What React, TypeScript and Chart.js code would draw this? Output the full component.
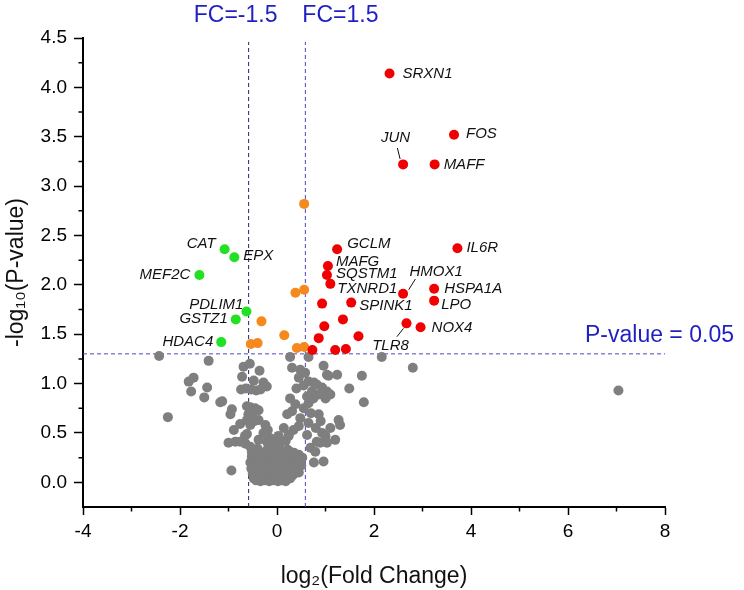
import React, { useEffect, useRef } from 'react';
import { Chart, registerables } from 'chart.js';

Chart.register(...registerables);

const FONT = '"Liberation Sans", Arial, Helvetica, sans-serif';

// axis ticks
const xTicks = [-4, -2, 0, 2, 4, 6, 8];
const xMinorTicks = [-3, -1, 1, 3, 5, 7];
const yTicks = [0, 0.5, 1, 1.5, 2, 2.5, 3, 3.5, 4, 4.5];
const yMinorTicks = [0.25, 0.75, 1.25, 1.75, 2.25, 2.75, 3.25, 3.75, 4.25];

// thresholds
const fcThreshold = 1.5;
const pThreshold = 0.05;

// significantly up-regulated, labelled
const upGenes = ['SRXN1', 'FOS', 'JUN', 'MAFF', 'IL6R', 'GCLM', 'MAFG', 'SQSTM1', 'TXNRD1', 'HMOX1', 'HSPA1A', 'LPO', 'SPINK1', 'NOX4', 'TLR8'];
const upX = [2.32, 3.65, 2.60, 3.25, 3.72, 1.24, 1.05, 1.03, 1.10, 2.60, 3.24, 3.24, 1.53, 2.96, 2.67];
const upY = [4.14, 3.52, 3.22, 3.22, 2.37, 2.36, 2.19, 2.10, 2.01, 1.91, 1.96, 1.84, 1.82, 1.57, 1.61];

// significantly up-regulated, unlabelled
const upOtherX = [0.93, 1.36, 0.975, 0.86, 1.68, 1.20, 1.42, 0.73];
const upOtherY = [1.81, 1.65, 1.58, 1.46, 1.48, 1.34, 1.35, 1.34];

// significantly down-regulated, labelled
const downGenes = ['CAT', 'EPX', 'MEF2C', 'PDLIM1', 'GSTZ1', 'HDAC4'];
const downX = [-1.08, -0.88, -1.60, -0.63, -0.85, -1.15];
const downY = [2.36, 2.28, 2.10, 1.73, 1.65, 1.42];

// significant p but small fold change
const midX = [0.56, 0.56, 0.38, -0.32, 0.15, -0.54, -0.40, 0.41, 0.56];
const midY = [2.82, 1.95, 1.92, 1.63, 1.49, 1.40, 1.41, 1.36, 1.37];

// not significant
const grayPoints: [number, number][] = [
  [-2.43, 1.28], [-2.25, 0.66], [-1.41, 1.23], [-1.72, 1.06], [-1.82, 1.02], [-1.77, 0.92], [-1.44, 0.96], [-1.50, 0.86], [-1.17, 0.81], [-1.13, 0.82],
  [-0.94, 0.12], [-1.00, 0.40], [-0.93, 0.74], [-0.96, 0.69], [-0.89, 0.53], [-0.86, 0.41], [-0.76, 0.41], [-0.76, 0.59],
  [-0.69, 1.17], [-0.56, 1.20], [-0.36, 1.13], [-0.72, 1.07], [-0.48, 1.03], [-0.28, 1.01], [-0.21, 0.97],
  [-0.74, 0.94], [-0.64, 0.95], [-0.53, 0.94], [-0.43, 0.93], [-0.34, 0.94],
  [-0.62, 0.77], [-0.55, 0.76], [-0.45, 0.75], [-0.38, 0.73], [-0.59, 0.69], [-0.51, 0.67], [-0.62, 0.63], [-0.47, 0.62], [-0.38, 0.63], [-0.55, 0.58],
  [-0.62, 0.49], [-0.66, 0.47], [-0.65, 0.39], [-0.55, 0.36], [-0.52, 0.31], [-0.46, 0.25], [-0.38, 0.43], [-0.28, 0.50], [-0.19, 0.53], [-0.24, 0.58],
  [-0.21, 0.41], [-0.15, 0.45], [-0.08, 0.36], [0.00, 0.41], [0.03, 0.47], [0.05, 0.38], [0.14, 0.55], [0.18, 0.42], [0.24, 0.47],
  [0.27, 1.27], [0.65, 1.27], [0.31, 1.16], [0.48, 1.14], [0.58, 1.11], [0.96, 1.18], [1.06, 1.08], [1.24, 1.09], [1.03, 1.09], [0.45, 1.06],
  [0.65, 1.02], [0.76, 1.01], [0.82, 0.99], [0.93, 0.96], [1.03, 0.92], [1.10, 0.89], [0.86, 0.89], [1.00, 0.85], [1.49, 0.95],
  [0.27, 0.85], [0.62, 0.87], [0.65, 0.80], [0.38, 0.79], [0.31, 0.72], [0.21, 0.69], [0.48, 0.65], [0.86, 0.69], [0.65, 0.60], [0.45, 0.57],
  [0.34, 0.53], [1.27, 0.63], [1.30, 0.58], [0.24, 0.48], [0.62, 0.48], [0.93, 0.50], [1.00, 0.47], [1.20, 0.43], [0.82, 0.41], [0.89, 0.40],
  [1.03, 0.40], [0.69, 0.35], [0.79, 0.31], [0.27, 0.31], [0.45, 0.28], [0.52, 0.25], [0.31, 0.21], [0.76, 0.20], [0.96, 0.21], [0.24, 0.13],
  [0.45, 0.10], [0.27, 0.04], [0.40, 0.95], [0.55, 0.98], [0.72, 0.92], [0.75, 0.85], [0.55, 0.75], [0.70, 0.70], [0.90, 0.62], [1.10, 0.55], [0.80, 0.55],
  [2.16, 1.27], [2.80, 1.16], [1.75, 1.08], [1.79, 0.81], [7.04, 0.93],
  [-0.50, 0.33], [-0.40, 0.34], [-0.30, 0.30], [-0.20, 0.33], [-0.10, 0.31], [0.02, 0.34], [0.12, 0.30], [0.22, 0.33], [0.35, 0.30],
  [-0.52, 0.26], [-0.44, 0.24], [-0.35, 0.26], [-0.26, 0.23], [-0.18, 0.27], [-0.08, 0.24], [0.00, 0.26], [0.08, 0.23], [0.16, 0.27], [0.25, 0.24], [0.33, 0.26], [0.42, 0.22],
  [-0.55, 0.20], [-0.47, 0.18], [-0.39, 0.21], [-0.31, 0.19], [-0.23, 0.20], [-0.15, 0.18], [-0.06, 0.21], [0.03, 0.19], [0.11, 0.20], [0.19, 0.18], [0.28, 0.21], [0.37, 0.18], [0.50, 0.17],
  [-0.53, 0.14], [-0.45, 0.15], [-0.36, 0.13], [-0.28, 0.16], [-0.20, 0.14], [-0.12, 0.15], [-0.03, 0.13], [0.05, 0.16], [0.14, 0.14], [0.22, 0.15], [0.31, 0.13], [0.40, 0.15],
  [-0.50, 0.09], [-0.41, 0.10], [-0.33, 0.08], [-0.25, 0.11], [-0.17, 0.09], [-0.09, 0.10], [-0.01, 0.08], [0.07, 0.11], [0.16, 0.09], [0.25, 0.10], [0.34, 0.08],
  [-0.48, 0.04], [-0.39, 0.06], [-0.30, 0.03], [-0.22, 0.05], [-0.13, 0.04], [-0.05, 0.06], [0.04, 0.03], [0.12, 0.05], [0.21, 0.04], [0.30, 0.06],
  [-0.43, 0.02], [-0.34, 0.01], [-0.25, 0.02], [-0.16, 0.01], [-0.07, 0.02], [0.02, 0.01], [0.10, 0.02], [0.18, 0.01],
];

// label placement (pixel offsets from the point)
type Lab = { dx: number; dy: number; align: CanvasTextAlign; leader?: [number, number, number, number] };
const upLabelPos: Lab[] = [
  { dx: 13, dy: 0, align: 'left' },
  { dx: 12, dy: -1, align: 'left' },
  { dx: -7.5, dy: -27, align: 'center', leader: [-5.7, -16.4, -3, -5.4] },
  { dx: 9, dy: 0, align: 'left' },
  { dx: 9, dy: 0, align: 'left' },
  { dx: 10, dy: -5, align: 'left' },
  { dx: 8, dy: -4, align: 'left' },
  { dx: 9, dy: -1, align: 'left' },
  { dx: 7, dy: 5, align: 'left' },
  { dx: 33, dy: -22, align: 'center', leader: [12.3, -14.7, 5.6, -4] },
  { dx: 10, dy: 0, align: 'left' },
  { dx: 7, dy: 4, align: 'left' },
  { dx: 8, dy: 3, align: 'left' },
  { dx: 11, dy: 1, align: 'left' },
  { dx: -16, dy: 22, align: 'center', leader: [-9.6, 13.4, -3, 5] },
];
const downLabelPos: Lab[] = [
  { dx: -9, dy: -5, align: 'right' },
  { dx: 9, dy: -1, align: 'left' },
  { dx: -9, dy: 0, align: 'right' },
  { dx: -3, dy: -7, align: 'right' },
  { dx: -8, dy: -1, align: 'right' },
  { dx: -8, dy: 0, align: 'right' },
];

const toPts = (xs: number[], ys: number[]) => xs.map((x, i) => ({ x, y: ys[i] }));

export default function App() {
  const ref = useRef<HTMLCanvasElement>(null);

  useEffect(() => {
    const canvas = ref.current;
    if (!canvas) return;
    const lfc = Math.log2(fcThreshold);
    const pLine = -Math.log10(pThreshold);
    const yMin = -0.25;
    const yMax = 4.5;
    const vTop = 4.46;

    const overlay = {
      id: 'overlay',
      afterDraw(chart: any) {
        const { ctx, chartArea, scales } = chart;
        const xs = scales.x;
        const ys = scales.y;
        ctx.save();
        // minor ticks
        ctx.strokeStyle = '#000';
        ctx.lineWidth = 1.5;
        ctx.beginPath();
        yMinorTicks.forEach((v) => {
          const py = ys.getPixelForValue(v);
          ctx.moveTo(chartArea.left, py);
          ctx.lineTo(chartArea.left - 4.5, py);
        });
        xMinorTicks.forEach((v) => {
          const px = xs.getPixelForValue(v);
          ctx.moveTo(px, chartArea.bottom);
          ctx.lineTo(px, chartArea.bottom + 4.5);
        });
        ctx.stroke();

        // threshold annotations
        ctx.fillStyle = '#1f1fc4';
        ctx.font = `23px ${FONT}`;
        ctx.textBaseline = 'middle';
        ctx.textAlign = 'center';
        ctx.fillText(`FC=-${fcThreshold}`, xs.getPixelForValue(-lfc) - 13, chartArea.top - 22);
        ctx.textAlign = 'left';
        ctx.fillText(`FC=${fcThreshold}`, xs.getPixelForValue(lfc) - 3, chartArea.top - 22);
        ctx.fillText(`P-value = ${pThreshold}`, chartArea.right - 80, ys.getPixelForValue(pLine) - 18);

        // gene labels
        ctx.fillStyle = '#111';
        ctx.strokeStyle = '#111';
        ctx.lineWidth = 1;
        ctx.font = `italic 15px ${FONT}`;
        const drawLabels = (names: string[], gx: number[], gy: number[], pos: Lab[]) => {
          names.forEach((name, i) => {
            const px = xs.getPixelForValue(gx[i]);
            const py = ys.getPixelForValue(gy[i]);
            const p = pos[i];
            ctx.textAlign = p.align;
            ctx.fillText(name, px + p.dx, py + p.dy);
            if (p.leader) {
              ctx.beginPath();
              ctx.moveTo(px + p.leader[0], py + p.leader[1]);
              ctx.lineTo(px + p.leader[2], py + p.leader[3]);
              ctx.stroke();
            }
          });
        };
        drawLabels(upGenes, upX, upY, upLabelPos);
        drawLabels(downGenes, downX, downY, downLabelPos);
        ctx.restore();
      },
    };

    const pointDs = (data: any[], color: string, order: number) => ({
      type: 'scatter' as const,
      data,
      pointRadius: 5,
      pointHoverRadius: 5,
      pointBackgroundColor: color,
      pointBorderColor: color,
      pointBorderWidth: 0,
      backgroundColor: color,
      borderColor: color,
      order,
    });
    const lineDs = (data: any[], color: string) => ({
      type: 'line' as const,
      data,
      borderColor: color,
      borderWidth: 1,
      borderDash: [4, 3],
      pointRadius: 0,
      fill: false,
      showLine: true,
      order: 10,
    });

    const chart = new Chart(canvas, {
      type: 'scatter',
      data: {
        datasets: [
          lineDs([{ x: -lfc, y: yMin }, { x: -lfc, y: vTop }], '#22227a'),
          lineDs([{ x: lfc, y: yMin }, { x: lfc, y: vTop }], '#4646c6'),
          lineDs([{ x: -4, y: pLine }, { x: 8, y: pLine }], '#4a4ac4'),
          pointDs(grayPoints.map(([x, y]) => ({ x, y })), '#7f7f7f', 5),
          pointDs(toPts(midX, midY), '#f5891e', 2),
          pointDs(toPts(downX, downY), '#22e022', 1),
          pointDs(toPts(upOtherX, upOtherY), '#f00000', 1),
          pointDs(toPts(upX, upY), '#f00000', 1),
        ] as any,
      },
      options: {
        responsive: false,
        animation: false,
        devicePixelRatio: 1,
        layout: { padding: { left: 0, right: 79, top: 38, bottom: 0 } },
        plugins: { legend: { display: false }, tooltip: { enabled: false } },
        scales: {
          x: {
            type: 'linear',
            min: -4,
            max: 8,
            afterBuildTicks: (s: any) => {
              s.ticks = xTicks.map((v) => ({ value: v }));
            },
            afterFit: (s: any) => {
              s.height = 83;
            },
            grid: { display: true, drawOnChartArea: false, drawTicks: true, tickLength: 8, tickColor: '#000', tickWidth: 1.5 },
            border: { display: true, color: '#000', width: 2 },
            ticks: { font: { size: 19, family: FONT }, color: '#000', padding: 5, maxRotation: 0, callback: (v: any) => String(v) },
            title: { display: true, text: 'log₂(Fold Change)', font: { size: 23, family: FONT }, color: '#111', padding: { top: 0, bottom: 0 } },
          },
          y: {
            type: 'linear',
            min: yMin,
            max: yMax,
            afterBuildTicks: (s: any) => {
              s.ticks = yTicks.map((v) => ({ value: v }));
            },
            afterFit: (s: any) => {
              s.width = 83;
            },
            grid: { display: true, drawOnChartArea: false, drawTicks: true, tickLength: 9, tickColor: '#000', tickWidth: 1.5 },
            border: { display: true, color: '#000', width: 2 },
            ticks: { font: { size: 19, family: FONT }, color: '#000', padding: 7, callback: (v: any) => Number(v).toFixed(1) },
            title: { display: true, text: '-log₁₀(P-value)', font: { size: 23, family: FONT }, color: '#111', padding: { top: 3, bottom: 0 } },
          },
        },
      },
      plugins: [overlay],
    });
    return () => chart.destroy();
  }, []);

  return (
    <div style={{ position: 'absolute', left: 0, top: 0, width: 744, height: 590, background: '#fff' }}>
      <canvas ref={ref} width={744} height={590} style={{ display: 'block' }} />
    </div>
  );
}
